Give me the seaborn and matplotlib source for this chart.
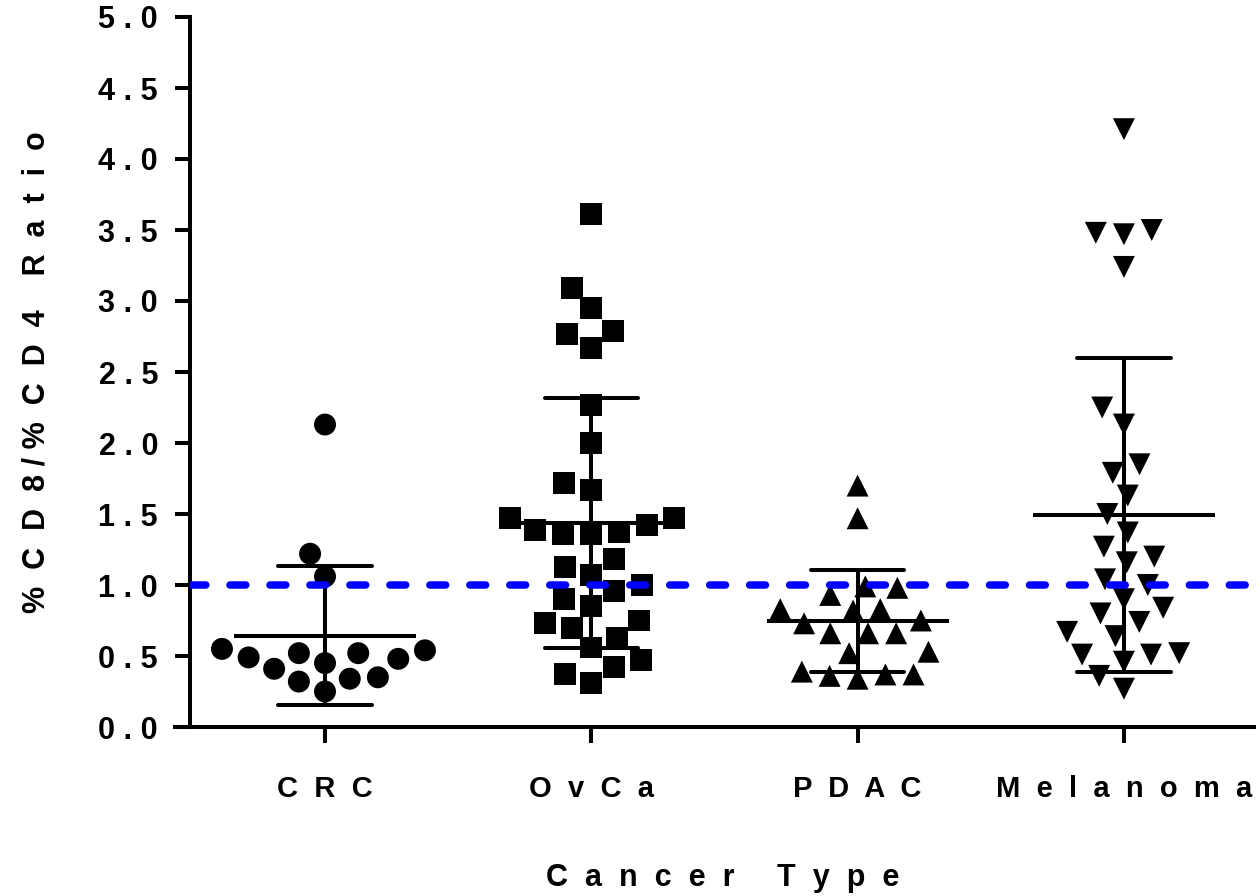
import numpy as np
import pandas as pd
import matplotlib
matplotlib.use("Agg")
import matplotlib.pyplot as plt
import seaborn as sns

# CD8/CD4 ratio per tumour sample, grouped by cancer type
categories = ["CRC", "OvCa", "PDAC", "Melanoma"]
category_labels = ["C  R  C", "O  v  C  a", "P  D  A  C", "M  e  l  a  n  o  m  a"]
markers = ["o", "s", "^", "v"]

crc = [2.13, 1.22, 1.06, 0.52, 0.41, 0.55, 0.49, 0.34, 0.25, 0.54,
       0.48, 0.32, 0.35, 0.52, 0.45]
ovca = [3.61, 3.09, 2.95, 2.79, 2.77, 2.67, 2.27, 2.00, 1.72, 1.67,
        1.47, 1.42, 1.36, 1.37, 1.36, 1.39, 1.47, 1.18, 1.13, 1.07,
        1.00, 0.96, 0.90, 0.85, 0.75, 0.73, 0.70, 0.63, 0.56, 0.47,
        0.42, 0.37, 0.31]
pdac = [1.70, 1.47, 0.99, 0.93, 0.98, 0.83, 0.82, 0.83, 0.73, 0.75,
        0.66, 0.66, 0.66, 0.53, 0.52, 0.39, 0.37, 0.34, 0.36, 0.37]
melanoma = [4.21, 3.48, 3.47, 3.50, 3.24, 2.25, 2.13, 1.85, 1.79, 1.63,
            1.50, 1.37, 1.27, 1.20, 1.16, 1.04, 1.00, 0.90, 0.84, 0.80,
            0.74, 0.67, 0.64, 0.51, 0.51, 0.52, 0.46, 0.36, 0.27]

reference_ratio = 1.0
y_ticks = [0.0, 0.5, 1.0, 1.5, 2.0, 2.5, 3.0, 3.5, 4.0, 4.5, 5.0]

groups = [crc, ovca, pdac, melanoma]
df = pd.DataFrame({
    "type": np.repeat(categories, [len(g) for g in groups]),
    "ratio": np.concatenate(groups),
})

sns.set_style("ticks")
plt.rcParams["font.family"] = ["Liberation Sans", "DejaVu Sans"]
plt.rcParams["font.weight"] = "bold"
for key in ["text.color", "axes.labelcolor", "xtick.color", "ytick.color",
            "axes.edgecolor"]:
    plt.rcParams[key] = "black"

W, H = 1256, 896
fig = plt.figure(figsize=(W / 100, H / 100), dpi=100)
ax = fig.add_axes([190 / W, 1 - 727 / H, 1066 / W, 710 / H])

LW = 2.9

# individual samples, one marker shape per cancer type; the invisible
# edge widens the spacing the swarm keeps between neighbouring markers
for cat, m in zip(categories, markers):
    sns.swarmplot(data=df[df["type"] == cat], x="type", y="ratio",
                  order=categories, marker=m, color="black", size=15.8,
                  linewidth=3.5, edgecolor="none", ax=ax, zorder=3)

# mean line with +/- SD whiskers
sns.pointplot(data=df, x="type", y="ratio", order=categories,
              errorbar="sd", capsize=0.35, color="black",
              marker="_", markersize=131, markeredgewidth=LW,
              linestyle="none",
              err_kws={"linewidth": LW, "solid_capstyle": "round", "zorder": 4},
              ax=ax, zorder=4)

# ratio = 1 reference line
ax.axhline(reference_ratio, color="#0000ff", lw=5.4, dashes=(2.11, 3.22),
           dash_capstyle="round", zorder=5)

ax.set_ylim(0, 5)
ax.set_xlim(-0.507, 3.496)

ax.set_yticks(y_ticks)
ax.set_yticklabels([f"{t:.1f}".replace(".", " . ") for t in y_ticks],
                   fontsize=22, fontweight="bold")
ax.set_xticks(range(len(categories)))
ax.set_xticklabels(category_labels, fontsize=21, fontweight="bold")

ax.tick_params(axis="y", length=11, width=LW, pad=12)
ax.tick_params(axis="x", length=11.5, width=LW, pad=23)

for side in ["top", "right"]:
    ax.spines[side].set_visible(False)
for side in ["left", "bottom"]:
    ax.spines[side].set_linewidth(LW)
ax.spines["bottom"].set_bounds(-0.563, 3.496)

ax.set_xlabel("C  a  n  c  e  r     T  y  p  e", fontsize=22,
              fontweight="bold", labelpad=43)
ax.set_ylabel("%  C  D  8 / %  C  D  4    R  a  t  i  o", fontsize=22,
              fontweight="bold", labelpad=34)

fig.savefig("out.png", dpi=100, facecolor="white")
